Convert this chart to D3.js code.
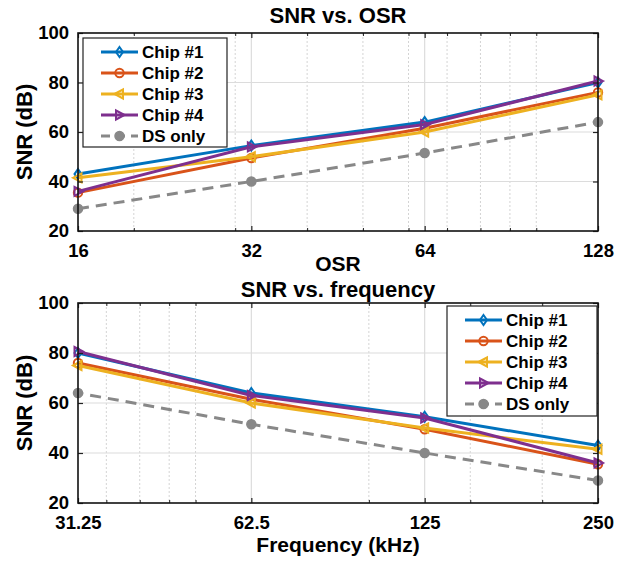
<!DOCTYPE html>
<html>
<head>
<meta charset="utf-8">
<script src="https://cdn.jsdelivr.net/npm/d3@7"></script>
<style>
  html, body { margin: 0; padding: 0; background: #fff; }
  svg { display: block; }
  text { font-family: "Liberation Sans", Arial, Helvetica, sans-serif; font-weight: bold; fill: #000; }
</style>
</head>
<body>
<svg id="chart" width="617" height="563"></svg>
<script>
// Measured SNR (dB) per chip, ordered by OSR 16, 32, 64, 128
const osr = [16, 32, 64, 128];
const freq = [250, 125, 62.5, 31.25]; // signal bandwidth in kHz for the same OSR steps
const chip1 = [43, 54.5, 64, 80];
const chip2 = [35.5, 49.5, 61.5, 76];
const chip3 = [41.5, 50, 60, 75];
const chip4 = [36, 54, 63, 80.6];
const dsOnly = [29, 40, 51.5, 64];

const seriesNames = ["Chip #1", "Chip #2", "Chip #3", "Chip #4", "DS only"];
const seriesValues = [chip1, chip2, chip3, chip4, dsOnly];
const seriesColors = ["#0072BD", "#D95319", "#EDB120", "#7E2F8E", "#888888"];
const seriesMarkers = ["diamond", "circle", "triLeft", "triRight", "dot"];

const yTicks = [20, 40, 60, 80, 100];
const osrTicks = [16, 32, 64, 128];
const osrMinor = [20, 30, 40, 50, 60, 70, 80, 90, 100];
const freqTicks = [31.25, 62.5, 125, 250];
const freqTickLabels = ["31.25", "62.5", "125", "250"];
const freqMinor = [35, 40, 45, 50, 100, 150, 200];

const svg = d3.select("#chart");

function markerPath(type) {
  switch (type) {
    case "diamond": return "M0,-5L3.5,0L0,5L-3.5,0Z";
    case "triLeft": return "M-5,0L3.5,-4.5L3.5,4.5Z";
    case "triRight": return "M5,0L-3.5,-4.5L-3.5,4.5Z";
    default: return null;
  }
}

function drawMarker(g, type, color, cx, cy) {
  if (type === "circle") {
    g.append("circle").attr("cx", cx).attr("cy", cy).attr("r", 4.2)
      .attr("fill", "none").attr("stroke", color).attr("stroke-width", 2);
  } else if (type === "dot") {
    g.append("circle").attr("cx", cx).attr("cy", cy).attr("r", 4.5)
      .attr("fill", color).attr("stroke", color).attr("stroke-width", 1.5);
  } else {
    g.append("path").attr("d", markerPath(type))
      .attr("transform", `translate(${cx},${cy})`)
      .attr("fill", "none").attr("stroke", color).attr("stroke-width", 2)
      .attr("stroke-linejoin", "miter");
  }
}

function panel(opts) {
  const { left, right, top, bottom, xs, xMajor, xMinor, xLabels, title, titleY, xLabel, xLabelY, legend } = opts;
  const g = svg.append("g");
  const x = d3.scaleLog().base(2).domain(d3.extent(xMajor)).range([left, right]);
  const y = d3.scaleLinear().domain([20, 100]).range([bottom, top]);

  // grid
  const grid = g.append("g");
  grid.selectAll(".minor").data(xMinor).join("line")
    .attr("x1", d => x(d)).attr("x2", d => x(d)).attr("y1", top).attr("y2", bottom)
    .attr("stroke", "#d4d4d4").attr("stroke-width", 1).attr("stroke-dasharray", "2,2");
  grid.selectAll(".majx").data(xMajor.slice(1, -1)).join("line")
    .attr("x1", d => x(d)).attr("x2", d => x(d)).attr("y1", top).attr("y2", bottom)
    .attr("stroke", "#dcdcdc").attr("stroke-width", 1.2);
  grid.selectAll(".majy").data(yTicks.slice(1, -1)).join("line")
    .attr("x1", left).attr("x2", right).attr("y1", d => y(d)).attr("y2", d => y(d))
    .attr("stroke", "#dcdcdc").attr("stroke-width", 1.2);

  // series
  const line = d3.line().x((d, i) => x(xs[i])).y(d => y(d));
  seriesValues.forEach((vals, si) => {
    const dashed = si === 4;
    g.append("path").datum(vals).attr("d", line)
      .attr("fill", "none").attr("stroke", seriesColors[si]).attr("stroke-width", 3)
      .attr("stroke-dasharray", dashed ? "11,7" : null);
    vals.forEach((v, i) => drawMarker(g, seriesMarkers[si], seriesColors[si], x(xs[i]), y(v)));
  });

  // axes with inward ticks
  g.append("g").attr("transform", `translate(0,${bottom})`)
    .call(d3.axisBottom(x).tickValues(xMajor).tickSize(-5).tickPadding(13)
      .tickFormat((d, i) => xLabels[i]))
    .call(a => a.select(".domain").remove())
    .call(a => a.selectAll("text").style("font-size", "18.5px").attr("fill", "#000"))
    .call(a => a.selectAll("line").attr("stroke", "#222").attr("stroke-width", 1.2));
  g.append("g").attr("transform", `translate(0,${bottom})`)
    .call(d3.axisBottom(x).tickValues(xMinor).tickSize(-3).tickFormat(""))
    .call(a => a.select(".domain").remove())
    .call(a => a.selectAll("line").attr("stroke", "#222").attr("stroke-width", 1));
  g.append("g").attr("transform", `translate(0,${top})`)
    .call(d3.axisTop(x).tickValues(xMajor).tickSize(-5).tickFormat(""))
    .call(a => a.select(".domain").remove())
    .call(a => a.selectAll("line").attr("stroke", "#222").attr("stroke-width", 1.2));
  g.append("g").attr("transform", `translate(0,${top})`)
    .call(d3.axisTop(x).tickValues(xMinor).tickSize(-3).tickFormat(""))
    .call(a => a.select(".domain").remove())
    .call(a => a.selectAll("line").attr("stroke", "#222").attr("stroke-width", 1));
  g.append("g").attr("transform", `translate(${left},0)`)
    .call(d3.axisLeft(y).tickValues(yTicks).tickSize(-5).tickPadding(9))
    .call(a => a.select(".domain").remove())
    .call(a => a.selectAll("text").style("font-size", "18.5px").attr("fill", "#000"))
    .call(a => a.selectAll("line").attr("stroke", "#222").attr("stroke-width", 1.2));
  g.append("g").attr("transform", `translate(${right},0)`)
    .call(d3.axisRight(y).tickValues(yTicks).tickSize(-5).tickFormat(""))
    .call(a => a.select(".domain").remove())
    .call(a => a.selectAll("line").attr("stroke", "#222").attr("stroke-width", 1.2));

  // box
  g.append("rect").attr("x", left).attr("y", top).attr("width", right - left).attr("height", bottom - top)
    .attr("fill", "none").attr("stroke", "#111").attr("stroke-width", 1.6);

  // labels
  g.append("text").attr("x", (left + right) / 2).attr("y", titleY).attr("text-anchor", "middle")
    .style("font-size", "22px").text(title);
  g.append("text").attr("x", (left + right) / 2).attr("y", xLabelY).attr("text-anchor", "middle")
    .style("font-size", "21px").text(xLabel);
  g.append("text").attr("transform", `translate(32,${(top + bottom) / 2}) rotate(-90)`)
    .attr("text-anchor", "middle").style("font-size", "22px").text("SNR (dB)");

  // legend
  const lg = g.append("g");
  lg.append("rect").attr("x", legend.x).attr("y", legend.y).attr("width", legend.w).attr("height", legend.h)
    .attr("fill", "#fff").attr("stroke", "#222").attr("stroke-width", 1.2);
  seriesNames.forEach((name, si) => {
    const ry = legend.y + 14 + si * 21;
    const lx0 = legend.x + 18, lx1 = legend.x + 55;
    lg.append("line").attr("x1", lx0).attr("x2", lx1).attr("y1", ry).attr("y2", ry)
      .attr("stroke", seriesColors[si]).attr("stroke-width", 3)
      .attr("stroke-dasharray", si === 4 ? "9,6" : null);
    drawMarker(lg, seriesMarkers[si], seriesColors[si], (lx0 + lx1) / 2, ry);
    lg.append("text").attr("x", legend.x + 59).attr("y", ry + 6).style("font-size", "17px").text(name);
  });
}

panel({
  left: 78, right: 598, top: 33, bottom: 231,
  xs: osr, xMajor: osrTicks, xMinor: osrMinor, xLabels: osrTicks.map(String),
  title: "SNR vs. OSR", titleY: 23, xLabel: "OSR", xLabelY: 271,
  legend: { x: 83, y: 38, w: 144, h: 109 }
});

panel({
  left: 78, right: 598, top: 303, bottom: 503,
  xs: freq, xMajor: freqTicks, xMinor: freqMinor, xLabels: freqTickLabels,
  title: "SNR vs. frequency", titleY: 297, xLabel: "Frequency (kHz)", xLabelY: 552,
  legend: { x: 447, y: 306, w: 150, h: 110 }
});
</script>
</body>
</html>
